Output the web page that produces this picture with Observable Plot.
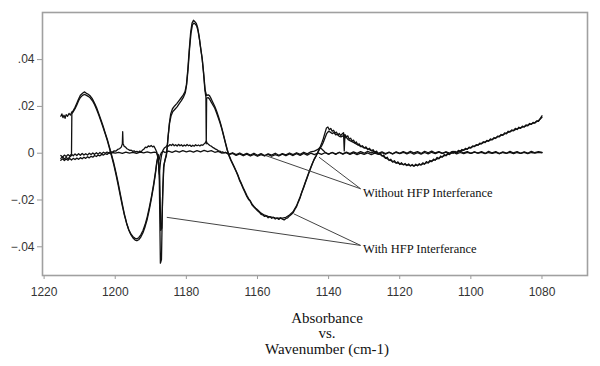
<!DOCTYPE html>
<html>
<head>
<meta charset="utf-8">
<script src="https://cdn.jsdelivr.net/npm/d3@7"></script>
<script src="https://cdn.jsdelivr.net/npm/@observablehq/plot@0.6"></script>
<style>
  html, body { margin: 0; padding: 0; background: #fff; }
  #chart svg { display: block; }
</style>
</head>
<body>
<div id="chart"></div>
<script>
// ---- Data (wavenumber cm-1, absorbance) ----
const xTicks = [1220, 1200, 1180, 1160, 1140, 1120, 1100, 1080];
const yTicks = [-0.04, -0.02, 0, 0.02, 0.04];
const titleLines = ["Absorbance", "vs.", "Wavenumber (cm-1)"];

const withHFP_1 = [[1215.3,0.0158],[1215.0,0.0168],[1214.7,0.0152],[1214.4,0.0162],[1214.1,0.0149],[1213.8,0.0165],[1213.4,0.0158],[1213.0,0.0170],[1212.6,0.0163],[1212.2,0.0176],[1211.8,0.0182],[1211.3,0.0196],[1210.8,0.0214],[1210.3,0.0232],[1209.8,0.0248],[1209.2,0.0256],[1208.7,0.0262],[1208.2,0.0257],[1207.6,0.0252],[1207.0,0.0244],[1206.4,0.0232],[1205.8,0.0213],[1205.2,0.0193],[1204.6,0.0168],[1204.0,0.0142],[1203.4,0.0115],[1202.8,0.0086],[1202.2,0.0058],[1201.6,0.0025],[1201.0,-0.0008],[1200.4,-0.0042],[1199.8,-0.0082],[1199.2,-0.0125],[1198.6,-0.0172],[1198.0,-0.0218],[1197.4,-0.0262],[1196.8,-0.0298],[1196.2,-0.0328],[1195.6,-0.0348],[1195.0,-0.0362],[1194.4,-0.0371],[1193.9,-0.0374],[1193.4,-0.0370],[1192.8,-0.0358],[1192.2,-0.0340],[1191.6,-0.0314],[1191.0,-0.0282],[1190.4,-0.0240],[1189.8,-0.0192],[1189.2,-0.0140],[1188.7,-0.0088],[1188.3,-0.0040],[1187.9,-0.0005],[1187.6,-0.0120],[1187.3,-0.0470],[1187.0,-0.0455],[1186.7,-0.0200],[1186.4,-0.0060],[1186.0,-0.0030],[1185.6,-0.0010],[1185.2,0.0060],[1184.8,0.0125],[1184.4,0.0168],[1183.9,0.0190],[1183.3,0.0202],[1182.7,0.0212],[1182.1,0.0224],[1181.5,0.0236],[1180.9,0.0248],[1180.4,0.0262],[1180.0,0.0290],[1179.6,0.0355],[1179.2,0.0440],[1178.8,0.0515],[1178.4,0.0556],[1178.0,0.0568],[1177.6,0.0562],[1177.2,0.0555],[1176.8,0.0535],[1176.4,0.0498],[1176.0,0.0452],[1175.6,0.0410],[1175.2,0.0348],[1174.8,0.0272],[1174.5,0.0240],[1174.4,0.0040],[1174.3,0.0235],[1173.9,0.0238],[1173.5,0.0232],[1173.0,0.0218],[1172.5,0.0205],[1172.0,0.0192],[1171.5,0.0172],[1171.0,0.0150],[1170.5,0.0128],[1170.0,0.0102],[1169.5,0.0072],[1169.0,0.0042],[1168.5,0.0012],[1168.0,-0.0012],[1167.5,-0.0030],[1167.0,-0.0046],[1166.5,-0.0062],[1166.0,-0.0078],[1165.5,-0.0096],[1165.0,-0.0118],[1164.5,-0.0134],[1164.0,-0.0152],[1163.5,-0.0168],[1163.0,-0.0185],[1162.5,-0.0198],[1162.0,-0.0206],[1161.5,-0.0222],[1161.0,-0.0230],[1160.5,-0.0238],[1160.0,-0.0246],[1159.5,-0.0252],[1159.0,-0.0261],[1158.5,-0.0264],[1158.0,-0.0270],[1157.5,-0.0268],[1157.0,-0.0276],[1156.5,-0.0271],[1156.0,-0.0278],[1155.5,-0.0274],[1155.0,-0.0281],[1154.5,-0.0277],[1154.0,-0.0283],[1153.5,-0.0276],[1153.0,-0.0282],[1152.5,-0.0285],[1152.0,-0.0279],[1151.5,-0.0276],[1151.0,-0.0268],[1150.5,-0.0262],[1150.0,-0.0255],[1149.5,-0.0240],[1149.0,-0.0228],[1148.5,-0.0208],[1148.0,-0.0190],[1147.5,-0.0166],[1147.0,-0.0147],[1146.5,-0.0124],[1146.0,-0.0104],[1145.5,-0.0082],[1145.0,-0.0062],[1144.5,-0.0042],[1144.0,-0.0025],[1143.5,-0.0012],[1143.0,0.0005],[1142.5,0.0022],[1142.0,0.0040],[1141.5,0.0062],[1141.0,0.0088],[1140.6,0.0108],[1140.2,0.0112],[1139.8,0.0100],[1139.4,0.0106],[1139.0,0.0094],[1138.6,0.0098],[1138.2,0.0086],[1137.8,0.0090],[1137.4,0.0078],[1137.0,0.0084],[1136.6,0.0076],[1136.2,0.0082],[1135.8,0.0088],[1135.6,0.0010],[1135.4,0.0080],[1135.0,0.0070],[1134.6,0.0074],[1134.2,0.0060],[1133.8,0.0064],[1133.4,0.0052],[1133.0,0.0056],[1132.6,0.0044],[1132.2,0.0048],[1131.8,0.0036],[1131.4,0.0040],[1131.0,0.0028],[1130.5,0.0032],[1130.0,0.0022],[1129.5,0.0027],[1129.0,0.0016],[1128.5,0.0021],[1128.0,0.0010],[1127.5,0.0015],[1127.0,0.0004],[1126.5,0.0009],[1126.0,-0.0004],[1125.5,0.0001],[1125.0,-0.0012],[1124.5,-0.0008],[1124.0,-0.0022],[1123.5,-0.0017],[1123.0,-0.0031],[1122.5,-0.0026],[1122.0,-0.0038],[1121.5,-0.0032],[1121.0,-0.0043],[1120.5,-0.0037],[1120.0,-0.0048],[1119.5,-0.0041],[1119.0,-0.0050],[1118.5,-0.0044],[1118.0,-0.0053],[1117.5,-0.0046],[1117.0,-0.0055],[1116.5,-0.0048],[1116.0,-0.0056],[1115.5,-0.0047],[1115.0,-0.0054],[1114.5,-0.0045],[1114.0,-0.0051],[1113.5,-0.0041],[1113.0,-0.0047],[1112.5,-0.0036],[1112.0,-0.0042],[1111.5,-0.0031],[1111.0,-0.0036],[1110.5,-0.0025],[1110.0,-0.0030],[1109.5,-0.0018],[1109.0,-0.0024],[1108.5,-0.0012],[1108.0,-0.0017],[1107.5,-0.0006],[1107.0,-0.0011],[1106.5,0.0000],[1106.0,-0.0006],[1105.5,0.0006],[1105.0,0.0000],[1104.5,0.0008],[1104.0,0.0003],[1103.5,0.0012],[1103.0,0.0007],[1102.5,0.0016],[1102.0,0.0012],[1101.5,0.0021],[1101.0,0.0017],[1100.5,0.0026],[1100.0,0.0022],[1099.5,0.0031],[1099.0,0.0028],[1098.5,0.0037],[1098.0,0.0034],[1097.5,0.0043],[1097.0,0.0040],[1096.5,0.0049],[1096.0,0.0045],[1095.5,0.0055],[1095.0,0.0051],[1094.5,0.0061],[1094.0,0.0057],[1093.5,0.0067],[1093.0,0.0063],[1092.5,0.0073],[1092.0,0.0070],[1091.5,0.0080],[1091.0,0.0076],[1090.5,0.0087],[1090.0,0.0083],[1089.5,0.0094],[1089.0,0.0090],[1088.5,0.0100],[1088.0,0.0096],[1087.5,0.0106],[1087.0,0.0101],[1086.5,0.0111],[1086.0,0.0106],[1085.5,0.0116],[1085.0,0.0112],[1084.5,0.0121],[1084.0,0.0117],[1083.5,0.0127],[1083.0,0.0123],[1082.5,0.0132],[1082.0,0.0129],[1081.5,0.0138],[1081.0,0.0136],[1080.5,0.0148],[1080.0,0.0160]];

const withHFP_2 = [[1215.3,-0.0022],[1214.8,-0.0015],[1214.3,-0.0025],[1213.8,-0.0018],[1213.3,-0.0024],[1212.8,-0.0016],[1212.3,-0.0010],[1212.2,0.0168],[1211.8,0.0178],[1211.3,0.0190],[1210.8,0.0206],[1210.3,0.0224],[1209.8,0.0238],[1209.2,0.0247],[1208.7,0.0251],[1208.2,0.0248],[1207.6,0.0243],[1207.0,0.0236],[1206.4,0.0224],[1205.8,0.0207],[1205.2,0.0186],[1204.6,0.0162],[1204.0,0.0136],[1203.4,0.0110],[1202.8,0.0082],[1202.2,0.0053],[1201.6,0.0020],[1201.0,-0.0014],[1200.4,-0.0050],[1199.8,-0.0090],[1199.2,-0.0134],[1198.6,-0.0180],[1198.0,-0.0225],[1197.4,-0.0266],[1196.8,-0.0300],[1196.2,-0.0326],[1195.6,-0.0345],[1195.0,-0.0357],[1194.4,-0.0364],[1193.9,-0.0366],[1193.4,-0.0361],[1192.8,-0.0349],[1192.2,-0.0330],[1191.6,-0.0305],[1191.0,-0.0272],[1190.4,-0.0230],[1189.8,-0.0184],[1189.2,-0.0132],[1188.7,-0.0082],[1188.3,-0.0036],[1187.9,-0.0012],[1187.5,-0.0090],[1187.2,-0.0330],[1186.9,-0.0320],[1186.6,-0.0150],[1186.3,-0.0050],[1185.9,-0.0022],[1185.5,0.0005],[1185.1,0.0075],[1184.7,0.0130],[1184.3,0.0160],[1183.8,0.0178],[1183.2,0.0188],[1182.6,0.0198],[1182.0,0.0212],[1181.4,0.0225],[1180.8,0.0240],[1180.3,0.0258],[1179.9,0.0295],[1179.5,0.0362],[1179.1,0.0445],[1178.7,0.0512],[1178.3,0.0548],[1177.9,0.0556],[1177.5,0.0552],[1177.1,0.0544],[1176.7,0.0522],[1176.3,0.0485],[1175.9,0.0440],[1175.5,0.0398],[1175.1,0.0336],[1174.7,0.0268],[1174.3,0.0246],[1173.9,0.0250],[1173.5,0.0246],[1173.0,0.0232],[1172.5,0.0216],[1172.0,0.0200],[1171.5,0.0180],[1171.0,0.0158],[1170.5,0.0134],[1170.0,0.0106],[1169.5,0.0076],[1169.0,0.0045],[1168.5,0.0016],[1168.0,-0.0008],[1167.5,-0.0027],[1167.0,-0.0043],[1166.5,-0.0059],[1166.0,-0.0076],[1165.5,-0.0093],[1165.0,-0.0114],[1164.5,-0.0130],[1164.0,-0.0148],[1163.5,-0.0164],[1163.0,-0.0180],[1162.5,-0.0194],[1162.0,-0.0204],[1161.5,-0.0218],[1161.0,-0.0227],[1160.5,-0.0235],[1160.0,-0.0242],[1159.0,-0.0256],[1158.0,-0.0265],[1157.0,-0.0270],[1156.0,-0.0273],[1155.0,-0.0276],[1154.0,-0.0278],[1153.0,-0.0277],[1152.0,-0.0274],[1151.0,-0.0264],[1150.0,-0.0250],[1149.0,-0.0224],[1148.0,-0.0186],[1147.0,-0.0143],[1146.0,-0.0101],[1145.0,-0.0060],[1144.0,-0.0024],[1143.0,0.0004],[1142.5,0.0018],[1142.0,0.0030],[1141.5,0.0046],[1141.0,0.0066],[1140.5,0.0085],[1140.0,0.0094],[1139.5,0.0090],[1139.0,0.0084],[1138.5,0.0088],[1138.0,0.0078],[1137.5,0.0081],[1137.0,0.0072],[1136.5,0.0070],[1136.0,0.0074],[1135.5,0.0065],[1135.0,0.0068],[1134.5,0.0058],[1134.0,0.0054],[1133.0,0.0046],[1132.0,0.0038],[1131.0,0.0030],[1130.0,0.0024],[1129.0,0.0018],[1128.0,0.0012],[1127.0,0.0006],[1126.0,-0.0002],[1125.0,-0.0010],[1124.0,-0.0020],[1123.0,-0.0028],[1122.0,-0.0035],[1121.0,-0.0040],[1120.0,-0.0045],[1119.0,-0.0048],[1118.0,-0.0050],[1117.0,-0.0052],[1116.0,-0.0053],[1115.0,-0.0051],[1114.0,-0.0048],[1113.0,-0.0044],[1112.0,-0.0039],[1111.0,-0.0033],[1110.0,-0.0027],[1109.0,-0.0021],[1108.0,-0.0014],[1107.0,-0.0008],[1106.0,-0.0003],[1105.0,0.0003],[1104.0,0.0005],[1103.0,0.0010],[1102.0,0.0014],[1101.0,0.0019],[1100.0,0.0025],[1099.0,0.0030],[1098.0,0.0036],[1097.0,0.0042],[1096.0,0.0048],[1095.0,0.0054],[1094.0,0.0059],[1093.0,0.0066],[1092.0,0.0073],[1091.0,0.0079],[1090.0,0.0086],[1089.0,0.0093],[1088.0,0.0098],[1087.0,0.0104],[1086.0,0.0109],[1085.0,0.0114],[1084.0,0.0120],[1083.0,0.0125],[1082.0,0.0131],[1081.0,0.0139],[1080.0,0.0154]];

const withoutHFP_1 = [[1215.3,-0.0010],[1214.8,-0.0016],[1214.3,-0.0008],[1213.8,-0.0014],[1213.3,-0.0006],[1212.8,-0.0012],[1212.3,-0.0004],[1211.8,-0.0011],[1211.3,-0.0003],[1210.8,-0.0010],[1210.3,-0.0002],[1209.8,-0.0009],[1209.3,-0.0001],[1208.8,-0.0008],[1208.3,-0.0002],[1207.8,-0.0008],[1207.3,0.0000],[1206.8,-0.0006],[1206.3,0.0001],[1205.8,-0.0005],[1205.3,0.0002],[1204.8,-0.0004],[1204.3,0.0003],[1203.8,-0.0002],[1203.3,0.0004],[1202.8,0.0000],[1202.3,0.0005],[1201.8,0.0001],[1201.3,0.0007],[1200.8,0.0004],[1200.3,0.0010],[1199.8,0.0009],[1199.3,0.0016],[1198.8,0.0019],[1198.3,0.0026],[1198.0,0.0040],[1197.9,0.0092],[1197.8,0.0042],[1197.5,0.0030],[1197.1,0.0026],[1196.7,0.0019],[1196.3,0.0016],[1195.9,0.0012],[1195.5,0.0013],[1195.1,0.0008],[1194.7,0.0010],[1194.3,0.0005],[1193.9,0.0008],[1193.5,0.0004],[1193.1,0.0009],[1192.7,0.0006],[1192.3,0.0014],[1191.9,0.0018],[1191.5,0.0026],[1191.1,0.0024],[1190.7,0.0031],[1190.3,0.0028],[1189.9,0.0033],[1189.5,0.0027],[1189.1,0.0030],[1188.7,0.0018],[1188.3,0.0004],[1187.9,-0.0030],[1187.6,-0.0090],[1187.3,-0.0040],[1187.0,-0.0010],[1186.6,0.0012],[1186.2,0.0022],[1185.8,0.0027],[1185.4,0.0033],[1185.0,0.0030],[1184.6,0.0037],[1184.2,0.0033],[1183.8,0.0039],[1183.4,0.0032],[1183.0,0.0036],[1182.6,0.0031],[1182.2,0.0038],[1181.8,0.0032],[1181.4,0.0036],[1181.0,0.0030],[1180.6,0.0035],[1180.2,0.0031],[1179.8,0.0037],[1179.4,0.0032],[1179.0,0.0035],[1178.6,0.0029],[1178.2,0.0034],[1177.8,0.0030],[1177.4,0.0036],[1177.0,0.0032],[1176.6,0.0035],[1176.2,0.0031],[1175.8,0.0036],[1175.4,0.0034],[1175.0,0.0040],[1174.6,0.0046],[1174.4,0.0052],[1174.2,0.0044],[1173.8,0.0038],[1173.4,0.0033],[1173.0,0.0030],[1172.6,0.0025],[1172.2,0.0022],[1171.8,0.0017],[1171.4,0.0015],[1171.0,0.0010],[1170.6,0.0009],[1170.2,0.0004],[1169.8,0.0006],[1169.4,0.0001],[1169.0,0.0003],[1168.0,-0.0004],[1167.0,0.0002],[1166.0,-0.0006],[1165.0,0.0001],[1164.0,-0.0007],[1163.0,-0.0001],[1162.0,-0.0008],[1161.0,0.0000],[1160.0,-0.0009],[1159.0,-0.0002],[1158.0,-0.0010],[1157.0,-0.0003],[1156.0,-0.0008],[1155.0,0.0000],[1154.0,-0.0009],[1153.0,-0.0002],[1152.0,-0.0007],[1151.0,0.0001],[1150.0,-0.0006],[1149.0,0.0002],[1148.0,-0.0005],[1147.0,0.0004],[1146.0,-0.0003],[1145.0,0.0006],[1144.0,0.0009],[1143.0,0.0016],[1142.5,0.0024],[1142.0,0.0019],[1141.5,0.0012],[1141.0,0.0004],[1140.0,-0.0004],[1139.0,0.0003],[1138.0,-0.0005],[1137.0,0.0004],[1136.0,-0.0003],[1135.0,0.0005],[1134.0,-0.0002],[1133.0,0.0006],[1132.0,-0.0001],[1131.0,0.0007],[1130.0,0.0000],[1129.0,0.0008],[1128.0,0.0001],[1127.0,0.0007],[1126.0,-0.0001],[1125.0,0.0006],[1124.0,-0.0002],[1123.0,0.0005],[1122.0,-0.0003],[1121.0,0.0006],[1120.0,-0.0001],[1119.0,0.0007],[1118.0,0.0000],[1117.0,0.0008],[1116.0,0.0001],[1115.0,0.0007],[1114.0,-0.0001],[1113.0,0.0008],[1112.0,0.0002],[1111.0,0.0009],[1110.0,0.0001],[1109.0,0.0007],[1108.0,-0.0001],[1107.0,0.0006],[1106.0,0.0000],[1105.0,0.0008],[1104.0,0.0002],[1103.0,0.0009],[1102.0,0.0001],[1101.0,0.0007],[1100.0,-0.0001],[1099.0,0.0006],[1098.0,0.0000],[1097.0,0.0007],[1096.0,-0.0001],[1095.0,0.0008],[1094.0,0.0001],[1093.0,0.0007],[1092.0,-0.0002],[1091.0,0.0006],[1090.0,0.0000],[1089.0,0.0008],[1088.0,0.0001],[1087.0,0.0007],[1086.0,-0.0001],[1085.0,0.0006],[1084.0,0.0000],[1083.0,0.0008],[1082.0,0.0002],[1081.0,0.0007],[1080.0,0.0004]];

const withoutHFP_2 = [[1215.3,-0.0030],[1214.8,-0.0024],[1214.3,-0.0031],[1213.8,-0.0025],[1213.3,-0.0030],[1212.8,-0.0023],[1212.3,-0.0029],[1211.8,-0.0022],[1211.3,-0.0027],[1210.8,-0.0021],[1210.3,-0.0026],[1209.8,-0.0019],[1209.3,-0.0024],[1208.8,-0.0017],[1208.3,-0.0022],[1207.8,-0.0015],[1207.3,-0.0020],[1206.8,-0.0013],[1206.3,-0.0017],[1205.8,-0.0010],[1205.3,-0.0014],[1204.8,-0.0008],[1204.3,-0.0011],[1203.8,-0.0005],[1203.3,-0.0008],[1202.8,-0.0002],[1202.3,-0.0005],[1201.8,0.0001],[1201.3,-0.0002],[1200.8,0.0003],[1200.0,0.0000],[1199.0,0.0004],[1198.0,-0.0001],[1197.0,0.0005],[1196.0,0.0000],[1195.0,0.0004],[1194.0,-0.0001],[1193.0,0.0005],[1192.0,0.0001],[1191.0,0.0006],[1190.0,0.0001],[1189.0,0.0005],[1188.4,0.0002],[1188.0,-0.0012],[1187.7,-0.0030],[1187.4,-0.0010],[1187.0,0.0003],[1186.5,0.0008],[1186.0,0.0003],[1185.0,0.0009],[1184.0,0.0004],[1183.0,0.0010],[1182.0,0.0005],[1181.0,0.0011],[1180.0,0.0006],[1179.0,0.0010],[1178.0,0.0005],[1177.0,0.0011],[1176.0,0.0006],[1175.0,0.0012],[1174.0,0.0007],[1173.0,0.0011],[1172.0,0.0004],[1171.0,0.0008],[1170.0,0.0000],[1169.0,0.0004],[1168.0,-0.0006],[1167.0,-0.0001],[1166.0,-0.0009],[1165.0,-0.0003],[1164.0,-0.0011],[1163.0,-0.0004],[1162.0,-0.0012],[1161.0,-0.0005],[1160.0,-0.0013],[1159.0,-0.0006],[1158.0,-0.0012],[1157.0,-0.0005],[1156.0,-0.0013],[1155.0,-0.0006],[1154.0,-0.0012],[1153.0,-0.0004],[1152.0,-0.0011],[1151.0,-0.0003],[1150.0,-0.0010],[1149.0,-0.0002],[1148.0,-0.0009],[1147.0,-0.0001],[1146.0,-0.0008],[1145.0,0.0000],[1144.0,-0.0006],[1143.0,0.0001],[1142.0,-0.0005],[1141.0,0.0002],[1140.0,-0.0004],[1139.0,0.0003],[1138.0,-0.0003],[1137.0,0.0003],[1136.0,-0.0004],[1135.0,0.0002],[1134.0,-0.0005],[1133.0,0.0001],[1132.0,-0.0006],[1131.0,0.0000],[1130.0,-0.0005],[1129.0,0.0001],[1128.0,-0.0006],[1127.0,0.0000],[1126.0,-0.0005],[1125.0,0.0002],[1124.0,-0.0004],[1123.0,0.0003],[1122.0,-0.0003],[1121.0,0.0004],[1120.0,-0.0002],[1119.0,0.0004],[1118.0,-0.0003],[1117.0,0.0003],[1116.0,-0.0004],[1115.0,0.0002],[1114.0,-0.0004],[1113.0,0.0003],[1112.0,-0.0003],[1111.0,0.0004],[1110.0,-0.0002],[1109.0,0.0005],[1108.0,-0.0001],[1107.0,0.0005],[1106.0,-0.0002],[1105.0,0.0004],[1104.0,-0.0003],[1103.0,0.0003],[1102.0,-0.0002],[1101.0,0.0004],[1100.0,-0.0001],[1099.0,0.0005],[1098.0,0.0000],[1097.0,0.0004],[1096.0,-0.0002],[1095.0,0.0003],[1094.0,-0.0001],[1093.0,0.0004],[1092.0,-0.0002],[1091.0,0.0003],[1090.0,-0.0001],[1089.0,0.0004],[1088.0,-0.0002],[1087.0,0.0003],[1086.0,-0.0001],[1085.0,0.0004],[1084.0,-0.0002],[1083.0,0.0003],[1082.0,0.0000],[1081.0,0.0004],[1080.0,0.0002]];

// Annotations (in data units: wavenumber, absorbance)
const annoLabels = ["Without HFP Interferance", "With HFP Interferance"];
const annoLabelX = [1130.3, 1130.3];
const annoLabelY = [-0.0171, -0.0409];
const leaderFromX = [1131.0, 1131.0, 1131.0, 1131.0];
const leaderFromY = [-0.0152, -0.0152, -0.0394, -0.0394];
const leaderToX = [1157.7, 1142.7, 1149.8, 1185.5];
const leaderToY = [-0.0010, -0.0017, -0.0259, -0.0274];

// ---- Build table ----
const traces = [
  ["with1", withHFP_1], ["with2", withHFP_2],
  ["without1", withoutHFP_1], ["without2", withoutHFP_2]
];
const rows = [];
for (const [name, pts] of traces) for (const [wn, a] of pts) rows.push({trace: name, wn, a});
const leaders = leaderFromX.map((x1, i) => ({x1, y1: leaderFromY[i], x2: leaderToX[i], y2: leaderToY[i]}));
const labels = annoLabels.map((t, i) => ({t, x: annoLabelX[i], y: annoLabelY[i]}));

const yFmt = d => d === 0 ? "0" : d3.format(".2f")(d).replace("0.", ".");
const serif = "'Liberation Serif', 'Times New Roman', serif";

const chart = Plot.plot({
  width: 600,
  height: 366,
  marginLeft: 42,
  marginRight: 13,
  marginTop: 12,
  marginBottom: 91,
  style: {fontFamily: "'Liberation Sans', Arial, sans-serif", fontSize: "12px", background: "#fff"},
  x: {domain: [1220.45, 1067.2]},
  y: {domain: [-0.05226, 0.06013]},
  marks: [
    Plot.axisX({ticks: xTicks, tickFormat: d => String(d), tickSize: 4, tickPadding: 8, stroke: "#999", fill: "#333", label: null}),
    Plot.axisY({ticks: yTicks, tickFormat: yFmt, tickSize: 5, tickPadding: 3, stroke: "#999", fill: "#333", label: null}),
    Plot.line(rows, {x: "wn", y: "a", z: "trace", stroke: "#111", strokeWidth: 1.3}),
    Plot.link(leaders, {x1: "x1", y1: "y1", x2: "x2", y2: "y2", stroke: "#444", strokeWidth: 1}),
    Plot.text(labels, {x: "x", y: "y", text: "t", textAnchor: "start", fontFamily: serif, fontSize: 12.5, fill: "#111"}),
    Plot.text([titleLines.join("\n")], {frameAnchor: "bottom", lineAnchor: "top", dx: 12, dy: 36, fontFamily: serif, fontSize: 15, lineHeight: 1.05, fill: "#111"}),
    Plot.frame({stroke: "#a0a0a0", strokeWidth: 1.6})
  ]
});
document.getElementById("chart").appendChild(chart);
</script>
</body>
</html>
